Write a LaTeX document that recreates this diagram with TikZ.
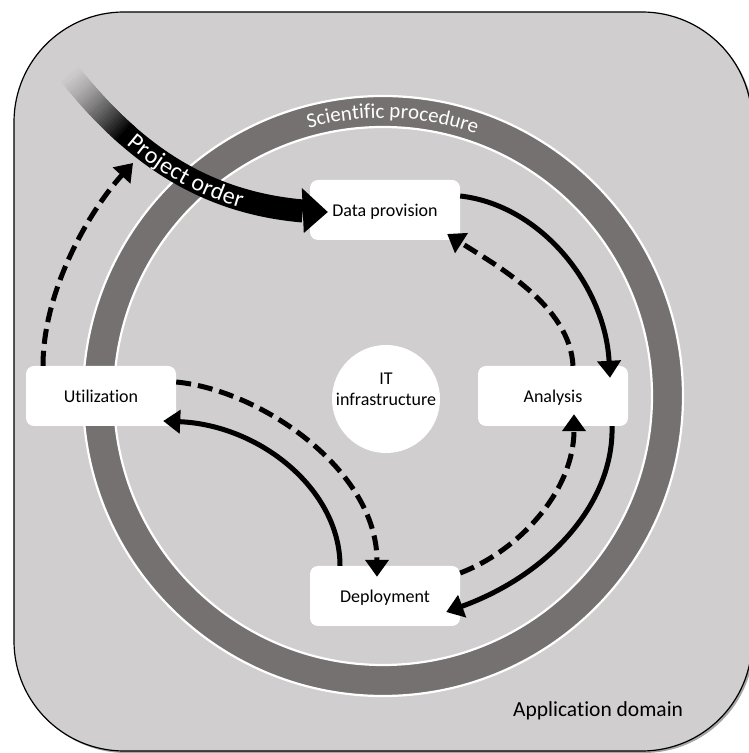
\documentclass[tikz,border=0pt]{standalone}
\usepackage{fontspec}
\setmainfont{Carlito}[Ligatures=NoCommon]
\usetikzlibrary{arrows.meta, decorations.text, decorations.markings, calc, shadows}
\definecolor{bggray}{HTML}{D0CECE}
\definecolor{ringgray}{HTML}{767171}
\begin{document}
\begin{tikzpicture}[x=1pt, y=1pt,
  box/.style={fill=white, rounded corners=8pt, minimum width=150pt, minimum height=60pt,
    inner sep=0pt, font=\fontsize{18}{21.6}\selectfont, text height=14pt, text depth=0pt},
  solidarrow/.style={line width=5pt, -{Triangle[width=23pt,length=17pt]}},
  dasharrow/.style={solidarrow, dash pattern=on 15pt off 7pt},
  poshaft/.style={line width=23pt}
]
\useasboundingbox (0,0) rectangle (748,753);
% application domain background
\path[fill=bggray, draw=black, line width=1.2pt, rounded corners=110pt,
  drop shadow={shadow xshift=2pt, shadow yshift=-2pt, opacity=0.35, fill=black}]
  (14,2) rectangle (752,741);
% scientific procedure ring
\coordinate (rc) at (383,357);
\draw[white, line width=2.2pt, fill=ringgray, even odd rule]
  (rc) circle[radius=300] (rc) circle[radius=269];
\path[decorate, decoration={text along path,
  text={|\color{white}\fontsize{21}{21}\selectfont|Scientific procedure}, text align=center}]
  ([shift={(148:278)}]rc) arc[start angle=148, end angle=28, radius=278];
% nodes
\node[box] (dp) at (385,543) {Data provision};
\node[box] (an) at (553,357) {Analysis};
\node[box] (ut) at (101,357) {Utilization};
\node[box] (de) at (385,157) {Deployment};
\node[circle, fill=white, minimum size=108pt, inner sep=0pt] (it) at (386,354) {};
\node[align=center, font=\fontsize{18}{21.6}\selectfont, inner sep=0pt] (ittext) at (386,363.6) {IT\\infrastructure};
\node[anchor=base west, font=\fontsize{21.5}{25}\selectfont, inner sep=0pt] (appdom) at (513,36.3) {Application domain};
% cycle connectors
\draw[solidarrow] ($(dp.east)+(0,14)$) .. controls +(80,-9) and +(-5,93) .. ($(an.north)+(57,-12)$);
\draw[dasharrow] ($(an.north)+(20,0)$) .. controls +(-3,60) and +(50,-32) .. ($(dp.east)+(-13,-24)$);
\draw[solidarrow] ($(an.south)+(59,0)$) .. controls +(2,-75) and +(105,38) .. ($(de.east)+(-14,-16)$);
\draw[dasharrow] ($(de.east)+(0,23)$) .. controls +(60,23) and +(0,-76) .. ($(an.south)+(21,12)$);
\draw[dasharrow] ($(ut.east)+(0,14)$) .. controls +(84,-8) and +(0,107) .. ($(de.north)+(-8,-11)$);
\draw[solidarrow] ($(de.north)+(-45,0)$) .. controls +(0,76) and +(97,-4) .. ($(ut.east)+(-13,-25)$);
% project order arrow
\coordinate (pos) at (68,681);
\coordinate (poe) at ($(dp.west)+(-7,-1)$);
\coordinate (poh) at (133,590);
\draw[dasharrow] ($(ut.north)+(-58,0)$) .. controls +(0,76) and +(-43,-47) .. (poh);
\path[decorate, decoration={markings, mark=between positions 0 and 1 step 0.01 with
  {\pgfmathtruncatemacro\qn{\pgfkeysvalueof{/pgf/decoration/mark info/sequence number}}\coordinate (q\qn);}}]
  (pos) .. controls +(62,-78) and +(-103,9) .. (poe);
\foreach \i in {1,...,30} {
  \pgfmathtruncatemacro\j{\i+2}
  \pgfmathtruncatemacro\pc{100*(\i/30)^1.4}
  \draw[poshaft, draw=black!\pc!bggray] (q\i) -- (q\j);
}
\draw[poshaft, line join=round] (q31) foreach \k in {32,...,99} {-- (q\k)} -- (poe);
\fill[black] ($(dp.west)+(-8,22)$) -- ($(dp.west)+(18,-2)$) -- ($(dp.west)+(-6,-23)$) -- cycle;
\path[decorate, decoration={text along path,
  text={|\color{white}\fontsize{24}{24}\selectfont|Project order}, text align={left indent=92pt}, raise=-8pt}]
  (pos) .. controls +(62,-78) and +(-103,9) .. (poe);
\end{tikzpicture}
\end{document}
